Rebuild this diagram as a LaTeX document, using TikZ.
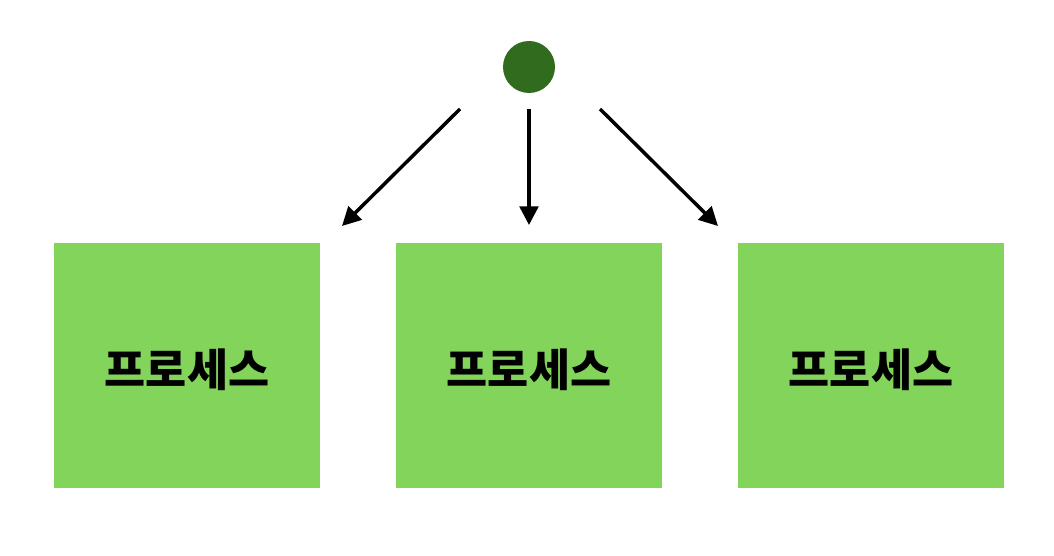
\documentclass[tikz,border=0pt]{standalone}
\usepackage{fontspec}
\newfontfamily\krfont{Noto Sans CJK KR}
\usetikzlibrary{arrows.meta}
\definecolor{boxgreen}{HTML}{83D45A}
\definecolor{dotgreen}{HTML}{306B1E}
\begin{document}
\begin{tikzpicture}[x=0.75pt, y=-0.75pt, >={Triangle[length=14pt,width=14pt]}, line join=round,
	proc/.style={fill=boxgreen, minimum width=199.5pt, minimum height=183.75pt, inner sep=0pt},
	proctext/.style={font=\krfont\bfseries\fontsize{33.5}{38}\selectfont, inner sep=0pt},
	flow/.style={->, line width=2.6pt}]
			\useasboundingbox (0,0) rectangle (1054,556);
			\node[circle, fill=dotgreen, minimum size=39pt, inner sep=0pt] (start) at (529,67) {};
			\node[proc] (p1) at (187,365.5) {};
			\node[proc] (p2) at (529,365.5) {};
			\node[proc] (p3) at (871,365.5) {};
			\node[proctext] (t1) at ([yshift=-3.5pt]p1.center) {프로세스};
			\node[proctext] (t2) at ([yshift=-3.5pt]p2.center) {프로세스};
			\node[proctext] (t3) at ([yshift=-3.5pt]p3.center) {프로세스};
			\coordinate (s1) at (460,109); \coordinate (e1) at (342,226);
			\coordinate (s2) at (529,109); \coordinate (e2) at (529,225);
			\coordinate (s3) at (600,109); \coordinate (e3) at (718,226);
			\draw[flow] (s1)--(e1);
			\draw[flow] (s2)--(e2);
			\draw[flow] (s3)--(e3);
			\end{tikzpicture}
\end{document}
